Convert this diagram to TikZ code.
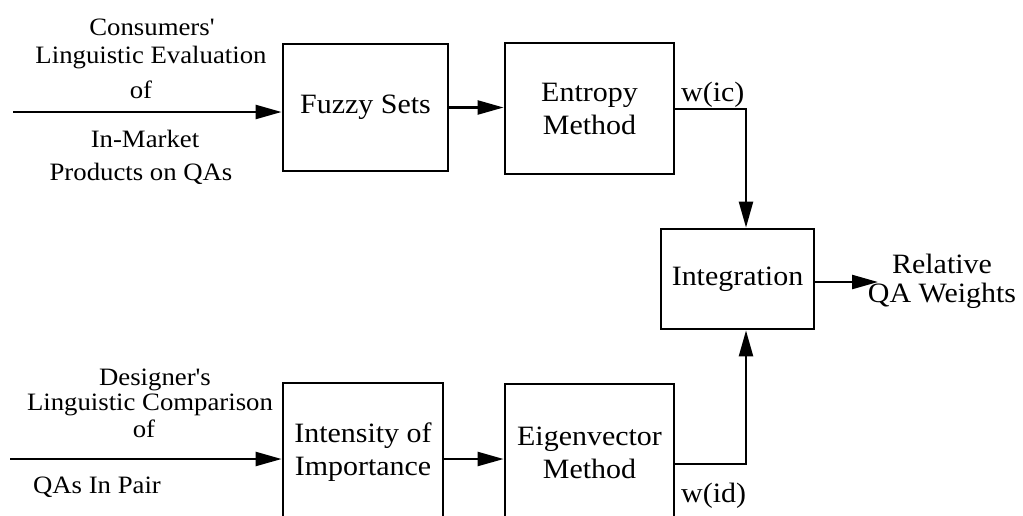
\documentclass[tikz,border=0pt]{standalone}
\usepackage{fontspec}
\setmainfont{Liberation Serif}[FakeStretch=1.07, Ligatures=TeXOff]
\usetikzlibrary{arrows.meta}
\begin{document}
\begin{tikzpicture}[x=1pt,y=-1pt,
  block/.style={draw, line width=2.8pt, inner sep=0pt, align=center,
                font=\fontsize{28}{33}\selectfont},
  flow/.style={line width=2.4pt, -{Triangle[length=26pt,width=14pt]}},
  side/.style={anchor=base, inner sep=0pt, font=\fontsize{25}{28}\selectfont},
  tag/.style={anchor=base west, inner sep=0pt, font=\fontsize{28}{33}\selectfont}]

\useasboundingbox (0,0) rectangle (1023,515);
\clip (0,0) rectangle (1023,515);

% processing blocks
\node[block, minimum width=165pt, minimum height=127pt] (fuzzy)   at (365.5,107.5) {Fuzzy Sets};
\node[block, minimum width=169pt, minimum height=131pt] (entropy) at (589.5,108.5) {Entropy\\Method};
\node[block, minimum width=153pt, minimum height=100pt] (integ)   at (737.5,279)   {Integration};
\node[block, minimum width=160pt, minimum height=138pt] (intens)  at (363,452)     {Intensity of\\Importance};
\node[block, minimum width=169pt, minimum height=137pt] (eigen)   at (589.5,452.5) {Eigenvector\\Method};

% free ends and corners of the connectors
\coordinate (in1) at (13,112);
\coordinate (in2) at (10,459);
\coordinate (ic)  at (746,109);
\coordinate (id)  at (746,464);
\coordinate (out) at (878,282);

% consumers' branch
\draw[flow] (in1) -- (in1 -| fuzzy.west);
\draw[flow] (fuzzy.east) -- (fuzzy.east -| entropy.west);
\draw[flow] (ic -| entropy.east) -- (ic) -- (ic |- integ.north);

% designer's branch
\draw[flow] (in2) -- (in2 -| intens.west);
\draw[flow] (in2 -| intens.east) -- (in2 -| eigen.west);
\draw[flow] (id -| eigen.east) -- (id) -- (id |- integ.south);

% result
\draw[flow] (integ.east |- out) -- (out);

% weight labels
\node[tag] (wic) at (681,101) {w(ic)};
\node[tag] (wid) at (681,502) {w(id)};

% output label
\node[inner sep=0pt, align=center, font=\fontsize{28}{29}\selectfont] (rel) at (942,281) {Relative\\QA Weights};

% input descriptions
\node[side] (c1) at (152,35)  {Consumers'};
\node[side] (c2) at (151,63)  {Linguistic Evaluation};
\node[side] (c3) at (141,98)  {of};
\node[side] (c4) at (145,147) {In-Market};
\node[side] (c5) at (141,180) {Products on QAs};

\node[side] (d1) at (155,385) {Designer's};
\node[side] (d2) at (150,410) {Linguistic Comparison};
\node[side] (d3) at (144,437) {of};
\node[side] (d4) at (97,493)  {QAs In Pair};
\end{tikzpicture}
\end{document}
